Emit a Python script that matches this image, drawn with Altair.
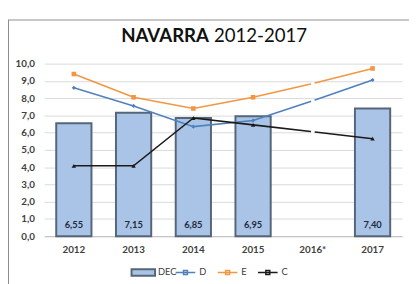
import altair as alt
import pandas as pd

years = ["2012", "2013", "2014", "2015", "2016*", "2017"]
dec_vals = [6.55, 7.15, 6.85, 6.95, None, 7.40]
d_vals = [8.6, 7.55, 6.35, 6.7, 7.85, 9.05]
e_vals = [9.4, 8.05, 7.4, 8.05, 8.85, 9.72]
c_vals = [4.08, 4.08, 6.85, 6.45, 6.05, 5.65]
series = ["D", "E", "C"]
series_colors = ["#4f81bd", "#f39642", "#1a1a1a"]
series_shapes = ["diamond", "square", "triangle-up"]
series_sizes = [18, 22, 20]
y_ticks = [0, 1, 2, 3, 4, 5, 6, 7, 8, 9, 10]
title_bold = "NAVARRA"
title_rest = "2012-2017"
bar_series = ["DEC"]

df = pd.DataFrame({"year": years, "DEC": dec_vals, "D": d_vals, "E": e_vals, "C": c_vals})

FONT = "Lato"

x_enc = alt.X(
    "year:N",
    sort=years,
    title=None,
    scale=alt.Scale(domain=years, paddingInner=0.41, paddingOuter=0.2),
    axis=alt.Axis(labelAngle=0, ticks=False, domainColor="#bfbfbf", labelPadding=9, grid=False),
)
y_scale = alt.Scale(domain=[0, 10], nice=False, zero=True)
y_axis = alt.Axis(
    values=y_ticks,
    tickCount=11,
    labelExpr="replace(format(datum.value, '.1f'), '.', ',')",
    labelOverlap=False,
    ticks=False,
    domain=False,
    labelPadding=10,
    gridColor="#d9d9d9",
)

base = alt.Chart(df)

bars = (
    base.transform_filter("isValid(datum.DEC)")
    .transform_calculate(s="'DEC'")
    .mark_bar(stroke="#55657a", strokeWidth=2)
    .encode(
        x=x_enc,
        y=alt.Y("DEC:Q", title=None, scale=y_scale, axis=y_axis),
        fill=alt.Fill(
            "s:N",
            scale=alt.Scale(domain=bar_series, range=["#a9c4e6"]),
            legend=alt.Legend(
                title=None,
                orient="none",
                legendX=88,
                legendY=200,
                padding=0,
                symbolType="M-1,-0.28H1V0.28H-1Z",
                symbolSize=576,
                symbolStrokeColor="#55657a",
                symbolStrokeWidth=2,
                labelOffset=2,
            ),
        ),
    )
)

folded = base.transform_fold(series, as_=["key", "value"])

lines = folded.mark_line(strokeWidth=1.6).encode(
    x=x_enc,
    y=alt.Y("value:Q", title=None, scale=y_scale, axis=y_axis),
    stroke=alt.Stroke(
        "key:N",
        sort=series,
        scale=alt.Scale(domain=series, range=series_colors),
        legend=alt.Legend(
            title=None,
            orient="none",
            direction="horizontal",
            legendX=133,
            legendY=202,
            padding=0,
            symbolType="M-1,0H1M-0.2,-0.2H0.2V0.2H-0.2Z",
            symbolSize=400,
            symbolStrokeWidth=1.5,
            labelOffset=3,
            columnPadding=8,
        ),
    ),
)

point_layers = []
for name, col, shp, sz in zip(series, series_colors, series_shapes, series_sizes):
    point_layers.append(
        folded.transform_filter(f"datum.key == '{name}' && datum.year != '2016*'")
        .mark_point(filled=True, size=sz, opacity=1, color=col, shape=shp)
        .encode(x=x_enc, y=alt.Y("value:Q", title=None, scale=y_scale, axis=y_axis))
    )

white_pts = (
    folded.transform_filter("datum.year == '2016*'")
    .mark_point(filled=True, size=16, opacity=1, color="white")
    .encode(x=x_enc, y=alt.Y("value:Q", title=None, scale=y_scale, axis=y_axis))
)

labels = (
    base.transform_filter("isValid(datum.DEC)")
    .transform_calculate(lbl="replace(format(datum.DEC, '.2f'), '.', ',')")
    .mark_text(font=FONT, fontWeight="bold", fontSize=9.5, color="#1f2a3c", dy=-11)
    .encode(x=x_enc, y=alt.datum(0, axis=y_axis, scale=y_scale), text="lbl:N")
)

t1 = (
    alt.Chart(pd.DataFrame({"t": [title_bold]}))
    .mark_text(align="right", baseline="alphabetic", font=FONT, fontWeight="bold", fontSize=19, color="#111111")
    .encode(x=alt.value(168), y=alt.value(-22), text="t:N")
)
t2 = (
    alt.Chart(pd.DataFrame({"t": [title_rest]}))
    .mark_text(align="left", baseline="alphabetic", font=FONT, fontSize=19, color="#111111")
    .encode(x=alt.value(173), y=alt.value(-22), text="t:N")
)

# outer chart frame (top edge drawn as the border of an empty legend box)
frame_df = pd.DataFrame({"f": ["frame"]})
frame = (
    alt.Chart(frame_df)
    .mark_point(opacity=0)
    .encode(
        shape=alt.Shape(
            "f:N",
            legend=alt.Legend(
                title=None,
                orient="none",
                legendX=-37,
                legendY=-45,
                padding=215,
                strokeColor="#8c8c8c",
                symbolOpacity=0,
                labelExpr="''",
            ),
        )
    )
)
frame_left = alt.Chart(frame_df).mark_rule(color="#8c8c8c", strokeWidth=1.6).encode(
    x=alt.value(-37), y=alt.value(-45), y2=alt.value(240)
)

chart = (
    alt.layer(bars, lines, *point_layers, white_pts, labels, t1, t2, frame, frame_left)
    .properties(
        width=365,
        height=176,
        padding={"left": 37, "top": 54, "right": 7, "bottom": 46},
        autosize=alt.AutoSizeParams(type="none"),
    )
    .configure_view(stroke=None)
    .configure_axis(labelFont=FONT, labelFontSize=10, labelColor="#404040", labelFontWeight="bold")
    .configure_legend(labelFont=FONT, labelFontSize=9.5, labelColor="#404040")
)

chart.save("out.html", embed_options={"renderer": "svg", "actions": False})
